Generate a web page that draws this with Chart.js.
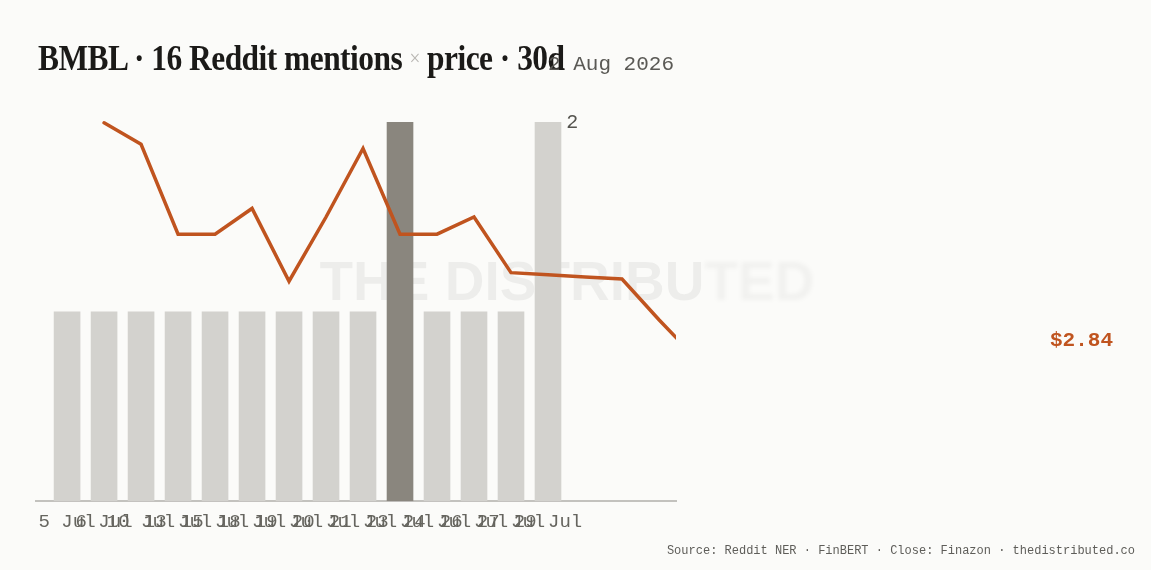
<!DOCTYPE html>
<html>
<head>
<meta charset="utf-8">
<script src="https://cdn.jsdelivr.net/npm/chart.js@4.4.1/dist/chart.umd.min.js"></script>
<style>
  html, body { margin: 0; padding: 0; background: #fbfbf9; }
  #wrap { position: relative; width: 1151px; height: 570px; overflow: hidden; }
  #c { position: absolute; left: 0; top: 0; }
  .title { position: absolute; left: 38px; top: 40px; white-space: nowrap; line-height: 1;
           font-family: "Liberation Serif", serif; font-weight: bold; font-size: 36px; color: #1b1a18;
           letter-spacing: -0.6px; transform-origin: 0 0; transform: scaleX(0.873); }
  .title .x { font-weight: normal; font-size: 22px; color: #b8b6b2; position: relative; top: -5px; }
  .sub { position: absolute; right: 477px; top: 54px; line-height: 1; white-space: nowrap;
         font-family: "Liberation Mono", monospace; font-size: 21px; color: #5a5955; }
  .src { position: absolute; right: 16px; top: 545px; line-height: 1; white-space: nowrap;
         font-family: "Liberation Mono", monospace; font-size: 12px; color: #5e5d59; }
</style>
</head>
<body>
<div id="wrap">
  <canvas id="c" width="1151" height="570"></canvas>
  <div class="title" id="title"></div>
  <div class="sub" id="sub"></div>
  <div class="src" id="src"></div>
</div>
<script>
// ---- data ----
const ticker = 'BMBL';
const windowLabel = '30d';
const asOf = '2 Aug 2026';
const dates = ['5 Jul','6 Jul','10 Jul','13 Jul','15 Jul','18 Jul','19 Jul','20 Jul','21 Jul','23 Jul','24 Jul','26 Jul','27 Jul','29 Jul'];
const mentions = [1,1,1,1,1,1,1,1,1,2,1,1,1,2];
const spikeDate = '23 Jul';
const prices = [null,3.35,3.30,3.09,3.09,3.15,2.98,3.13,3.29,3.09,3.09,3.13,3.00,2.995,2.99,2.985,2.89,2.80];
const lastClose = 2.84;
const sourceText = 'Source: Reddit NER · FinBERT · Close: Finazon · thedistributed.co';

// ---- text ----
const total = mentions.reduce((a, b) => a + b, 0);
document.getElementById('title').innerHTML =
  `${ticker} · ${total} Reddit mentions <span class="x">×</span> price · ${windowLabel}`;
document.getElementById('sub').textContent = asOf;
document.getElementById('src').textContent = sourceText;

// ---- chart ----
const MONO = '"Liberation Mono", monospace';
const barColors = dates.map(d => d === spikeDate ? '#8a867e' : '#d3d2ce');

const overlay = {
  id: 'overlay',
  beforeDatasetsDraw(chart) {
    const ctx = chart.ctx;
    ctx.save();
    ctx.font = 'bold 55px "Liberation Sans", sans-serif';
    ctx.textAlign = 'left';
    ctx.textBaseline = 'middle';
    const crisp = 'THE DISTRIBU', soft = 'TED';
    const w = ctx.measureText(crisp + soft).width;
    const x0 = 567 - w / 2, cy = 285;
    ctx.fillStyle = 'rgba(0,0,0,0.055)';
    ctx.fillText(crisp, x0, cy);
    ctx.filter = 'blur(2px)';
    ctx.fillStyle = 'rgba(0,0,0,0.04)';
    ctx.fillText(soft, x0 + ctx.measureText(crisp).width, cy);
    ctx.restore();
  },
  afterDatasetsDraw(chart) {
    const ctx = chart.ctx;
    ctx.save();
    const meta = chart.getDatasetMeta(1);
    const last = mentions.length - 1;
    const bar = meta.data[last];
    ctx.font = '20px ' + MONO;
    ctx.fillStyle = '#55544f';
    ctx.textAlign = 'left';
    ctx.textBaseline = 'middle';
    ctx.fillText(String(mentions[last]), bar.x + bar.width / 2 + 5, bar.y + 1);
    const py = chart.scales.price.getPixelForValue(lastClose);
    ctx.font = 'bold 21px ' + MONO;
    ctx.fillStyle = '#c0541f';
    ctx.textAlign = 'right';
    ctx.fillText('$' + lastClose.toFixed(2), 1113, py);
    ctx.restore();
  }
};

new Chart(document.getElementById('c'), {
  data: {
    datasets: [
      {
        type: 'line',
        data: prices.map((p, i) => ({ x: i, y: p })),
        xAxisID: 'x', yAxisID: 'price',
        borderColor: '#c0541f', borderWidth: 3.5,
        pointRadius: 0, tension: 0, spanGaps: false,
        borderCapStyle: 'round', borderJoinStyle: 'miter',
        clip: { left: 0, right: 0, top: 4, bottom: 4 },
        order: 0
      },
      {
        type: 'bar',
        data: mentions.map((m, i) => ({ x: i, y: m })),
        xAxisID: 'x', yAxisID: 'y',
        backgroundColor: barColors,
        barPercentage: 0.9, categoryPercentage: 0.8,
        order: 1
      }
    ]
  },
  options: {
    responsive: false,
    animation: false,
    layout: { padding: { left: 36, right: 475, top: 122, bottom: 28 } },
    plugins: { legend: { display: false }, tooltip: { enabled: false }, title: { display: false } },
    scales: {
      x: {
        type: 'linear', min: -0.84, max: 16.46, offset: false,
        grid: { display: false, drawTicks: false },
        border: { display: true, color: '#c3c2be', width: 2 },
        afterBuildTicks(scale) { scale.ticks = dates.map((d, i) => ({ value: i })); },
        ticks: {
          autoSkip: false, maxRotation: 0, minRotation: 0, padding: 9,
          color: '#66655f', font: { family: MONO, size: 19 },
          callback: (v) => dates[v]
        }
      },
      y: { display: false, min: 0, max: 2 },
      price: { display: false, position: 'right', min: 2.466, max: 3.352 }
    }
  },
  plugins: [overlay]
});
</script>
</body>
</html>
